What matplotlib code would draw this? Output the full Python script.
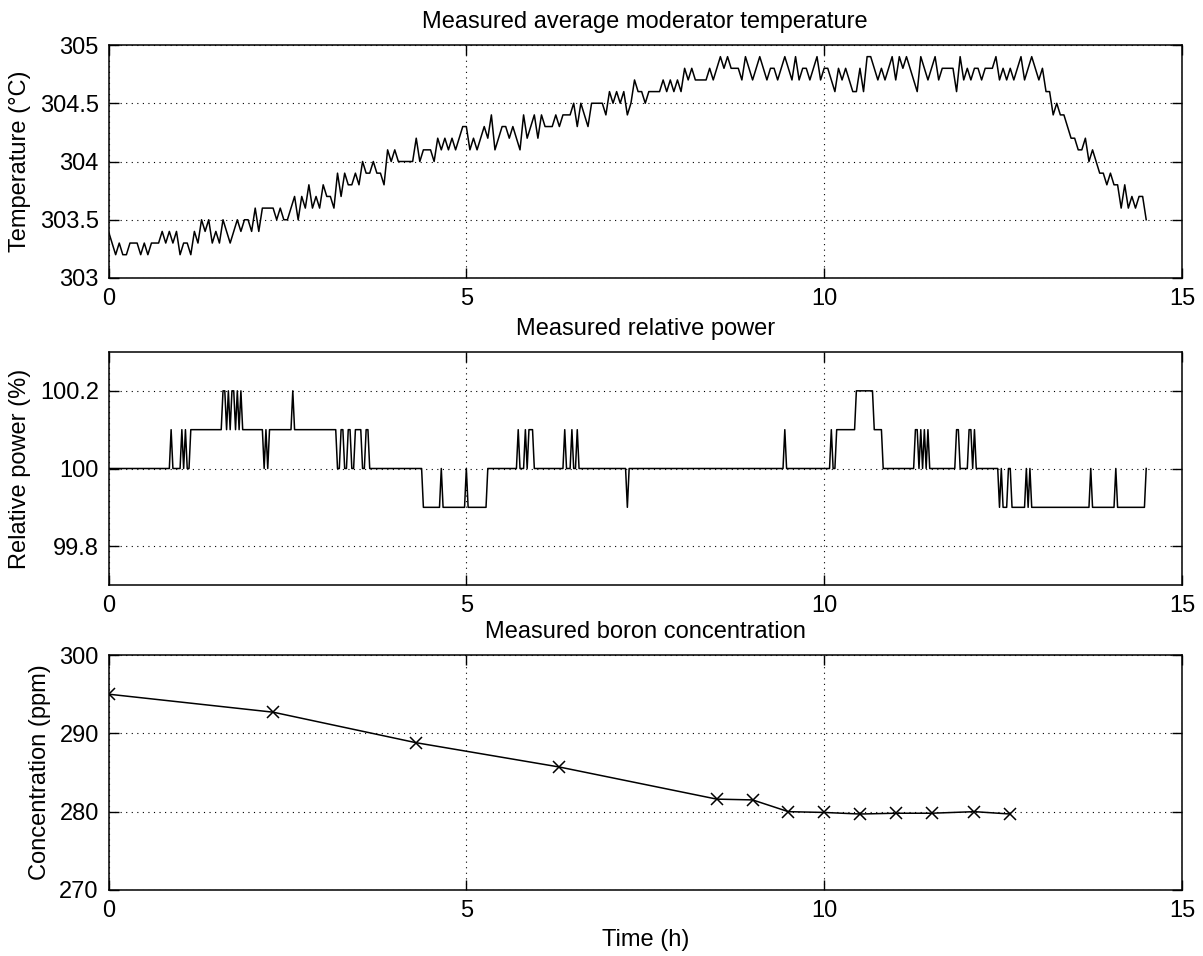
import numpy as np
import matplotlib
matplotlib.use("Agg")
import matplotlib.pyplot as plt

plt.rcParams['font.family'] = ['Liberation Sans', 'DejaVu Sans']

# ---------------- data ----------------
# moderator temperature, tenths of a degree above 303 degC, one value every 0.05 h
temp_dt = 0.05
temp_tenths = [
    4, 3, 2, 3, 2, 2, 3, 3, 3, 2, 3, 2, 3, 3, 3, 4, 3, 4, 3, 4,
    2, 3, 3, 2, 4, 3, 5, 4, 5, 3, 4, 3, 5, 4, 3, 4, 5, 4, 5, 5,
    4, 6, 4, 6, 6, 6, 6, 5, 6, 5, 5, 6, 7, 5, 7, 6, 8, 6, 7, 6,
    8, 7, 7, 6, 9, 7, 9, 8, 8, 9, 8, 10, 9, 9, 10, 9, 9, 8, 11, 10,
    11, 10, 10, 10, 10, 10, 12, 10, 11, 11, 11, 10, 12, 11, 12, 11, 12, 11, 12, 13,
    13, 11, 12, 11, 12, 13, 12, 14, 11, 12, 13, 13, 12, 13, 12, 11, 14, 12, 13, 14,
    12, 14, 13, 13, 13, 14, 13, 14, 14, 14, 15, 13, 15, 14, 13, 15, 15, 15, 15, 14,
    16, 15, 16, 15, 16, 14, 15, 17, 16, 16, 15, 16, 16, 16, 16, 17, 16, 17, 16, 17,
    16, 18, 17, 18, 17, 17, 17, 17, 18, 17, 18, 19, 18, 19, 18, 18, 18, 17, 19, 18,
    17, 18, 19, 18, 17, 18, 18, 17, 18, 19, 18, 17, 19, 17, 18, 18, 17, 18, 19, 17,
    18, 18, 17, 16, 18, 17, 18, 17, 16, 16, 18, 16, 19, 19, 18, 17, 18, 17, 18, 19,
    17, 19, 18, 19, 18, 17, 16, 19, 18, 17, 18, 19, 17, 18, 18, 18, 18, 16, 19, 17,
    18, 17, 18, 18, 17, 18, 18, 18, 19, 17, 18, 17, 18, 17, 18, 19, 17, 18, 19, 18,
    17, 18, 16, 16, 14, 15, 14, 14, 13, 12, 12, 11, 11, 12, 10, 11, 10, 9, 9, 8,
    9, 8, 8, 6, 8, 6, 7, 6, 7, 7, 5,
]

# relative power, run-length encoded: level in tenths of % above 100, run length in samples of 0.025 h
power_dt = 0.025
power_level = [0, 1, 0, 1, 0, 1, 0, 1, 2, 1, 2, 1, 2, 1, 2, 1, 2, 1, 0, 1, 0, 1, 2, 1,
               0, 1, 0, 1, 0, 1, 0, 1, 0, -1, 0, -1, 0, -1, 0, 1, 0, 1, 0, 1, 0, 1, 0,
               1, 0, 1, 0, -1, 0, 1, 0, 1, 0, 1, 2, 1, 0, 1, 0, 1, 0, 1, 0, 1, 0, 1,
               0, 1, 0, 1, 0, -1, 0, -1, 0, -1, 0, -1, 0, -1, 0, -1, 0, -1, 0]
power_count = [35, 1, 5, 1, 1, 1, 2, 18, 2, 1, 1, 1, 2, 1, 1, 1, 1, 12, 1, 1, 1, 13, 1, 24,
               2, 2, 2, 2, 2, 4, 2, 2, 30, 10, 1, 13, 1, 11, 17, 1, 3, 1, 1, 3, 17, 1, 3,
               1, 2, 1, 27, 1, 87, 1, 25, 1, 2, 11, 10, 5, 18, 2, 1, 1, 1, 1, 1, 1, 15, 2,
               5, 2, 1, 1, 13, 1, 1, 3, 2, 8, 1, 1, 1, 33, 1, 13, 1, 16, 1]

# boron concentration samples
boron_time = [0.0, 2.3, 4.3, 6.3, 8.5, 9.0, 9.5, 10.0, 10.5, 11.0, 11.5, 12.1, 12.6]
boron_ppm = [295.0, 292.7, 288.8, 285.7, 281.6, 281.5, 280.0, 279.9, 279.7, 279.8, 279.8, 280.0, 279.7]

# ---------------- derived series ----------------
temp = 303.0 + np.array(temp_tenths) / 10.0
temp_t = np.arange(len(temp)) * temp_dt
power = 100.0 + np.repeat(power_level, power_count) / 10.0
power_t = np.arange(len(power)) * power_dt

# ---------------- figure ----------------
W, H = 1203, 956
fig = plt.figure(figsize=(W / 100, H / 100), dpi=100)

left = 108.5 / W
width = 1073.5 / W

def make_ax(top_px, bot_px):
    return fig.add_axes([left, 1 - bot_px / H, width, (bot_px - top_px) / H])

ax1 = make_ax(45, 278)
ax2 = make_ax(352, 585)
ax3 = make_ax(655, 890)

FS = 17

def style(ax):
    ax.set_xlim(0, 15)
    ax.set_xticks([0, 5, 10, 15])
    ax.tick_params(direction='in', top=True, right=True, length=7, width=1.0,
                   labelsize=FS, pad=7)
    for s in ax.spines.values():
        s.set_linewidth(1.1)
    ax.grid(True, linestyle=(0, (1, 4)), color='black', linewidth=0.8)

LW = 1.1

ax1.plot(temp_t, temp, color='black', linewidth=LW)
ax1.set_ylim(303, 305)
ax1.set_yticks([303, 303.5, 304, 304.5, 305])
ax1.set_yticklabels(['303', '303.5', '304', '304.5', '305'])
ax1.set_ylabel('Temperature (°C)', fontsize=FS, labelpad=6)
ax1.set_title('Measured average moderator temperature', fontsize=FS, pad=12)
style(ax1)

ax2.plot(power_t, power, color='black', linewidth=LW)
ax2.set_ylim(99.7, 100.3)
ax2.set_yticks([99.8, 100.0, 100.2])
ax2.set_yticklabels(['99.8', '100', '100.2'])
ax2.set_ylabel('Relative power (%)', fontsize=FS, labelpad=6)
ax2.set_title('Measured relative power', fontsize=FS, pad=12)
style(ax2)

ax3.plot(boron_time, boron_ppm, color='black', linewidth=LW, marker='x',
         markersize=8, markeredgewidth=1.1)
ax3.set_ylim(270, 300)
ax3.set_yticks([270, 280, 290, 300])
ax3.set_ylabel('Concentration (ppm)', fontsize=FS, labelpad=6)
ax3.set_xlabel('Time (h)', fontsize=FS, labelpad=5)
ax3.set_title('Measured boron concentration', fontsize=FS, pad=12)
style(ax3)

fig.savefig('out.png', dpi=100)
